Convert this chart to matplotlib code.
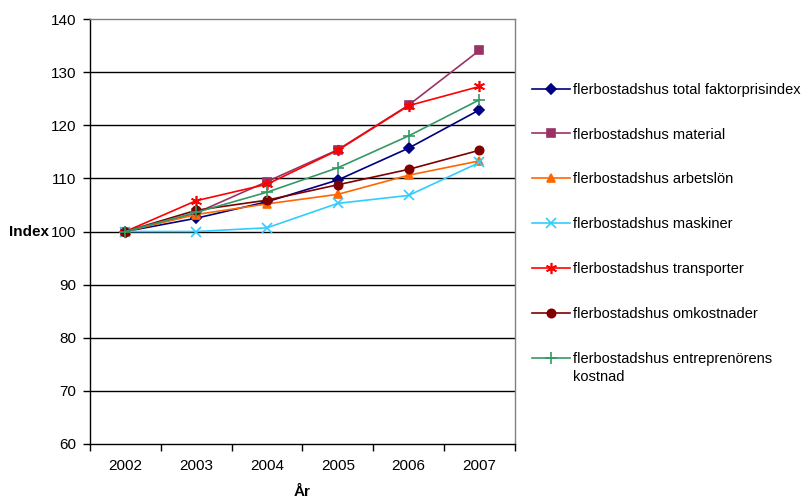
import matplotlib
matplotlib.use("Agg")
from matplotlib import pyplot as plt
import numpy as np

plt.rcParams['font.family'] = ['Liberation Sans', 'DejaVu Sans']

years = ["2002", "2003", "2004", "2005", "2006", "2007"]

total = [100, 102.5, 105.6, 109.7, 115.7, 122.9]
material = [100, 103.5, 109.4, 115.4, 123.8, 134.1]
arbetslon = [100, 103.2, 105.2, 107.0, 110.6, 113.3]
maskiner = [100, 100, 100.7, 105.3, 106.8, 113.0]
transporter = [100, 105.8, 108.9, 115.3, 123.7, 127.3]
omkostnader = [100, 104.0, 105.9, 108.8, 111.7, 115.3]
entreprenor = [100, 103.6, 107.4, 112.0, 118.0, 124.8]

labels = ["flerbostadshus total faktorprisindex",
          "flerbostadshus material",
          "flerbostadshus arbetslön",
          "flerbostadshus maskiner",
          "flerbostadshus transporter",
          "flerbostadshus omkostnader",
          "flerbostadshus entreprenörens"]
label_rest = "kostnad"  # andra raden av sista etiketten

# serie: (data, färg, markör, markörstorlek)
series = [
    (total, "#000080", "D", 5),
    (material, "#993366", "s", 5.5),
    (arbetslon, "#FF6600", "^", 6),
    (maskiner, "#33CCFF", "x", 7),
    (transporter, "#FF0000", (6, 2, 0), 8),
    (omkostnader, "#800000", "o", 6),
    (entreprenor, "#339966", "+", 8),
]

fig = plt.figure(figsize=(8.07, 5.01), dpi=100)
ax = fig.add_axes([0.1115, 0.1138, 0.5265, 0.8482])

x = np.arange(len(years))
for (vals, col, mk, ms), lab in zip(series, labels):
    ax.plot(x, vals, color=col, marker=mk, markersize=ms, lw=1.2,
            markeredgewidth=1.2, label=lab)

ax.set_xlim(-0.5, len(years) - 0.5)
ax.set_ylim(60, 140)
ax.set_yticks(range(60, 141, 10))
ax.set_xticks(x)
ax.set_xticklabels(years)
ax.set_xticks(np.arange(-0.5, len(years), 1), minor=True)
ax.tick_params(axis="x", which="major", length=0, pad=11, labelsize=11)
ax.tick_params(axis="x", which="minor", length=5, width=1, direction="out")
ax.tick_params(axis="y", length=5, width=1, direction="out", labelsize=11, pad=5)

for v in range(70, 140, 10):
    ax.axhline(v, color="black", lw=1, zorder=0)

ax.spines["left"].set_color("black")
ax.spines["bottom"].set_color("black")
ax.spines["top"].set_color("#808080")
ax.spines["right"].set_color("#808080")
for s in ax.spines.values():
    s.set_linewidth(1)

ax.set_ylabel("Index", fontweight="bold", fontsize=11, rotation=0, va="center", ha="center")
ax.yaxis.set_label_coords(-0.144, 0.499)
ax.set_xlabel("År", fontweight="bold", fontsize=11, va="center")
ax.xaxis.set_label_coords(0.5, -0.113)

leg = ax.legend(loc="upper left", bbox_to_anchor=(1.026, 0.864), frameon=False,
                fontsize=10.5, labelspacing=2.12, handlelength=2.6, handletextpad=0.2,
                borderaxespad=0)

# sista etiketten radbryts manuellt så att symbolen hamnar vid första raden
fig.canvas.draw()
bb = leg.get_texts()[-1].get_window_extent()
fig.text(bb.x0 / fig.bbox.width, (bb.y0 - 18) / fig.bbox.height, label_rest,
         fontsize=10.5, ha="left", va="bottom")

fig.savefig("out.png", dpi=100)
